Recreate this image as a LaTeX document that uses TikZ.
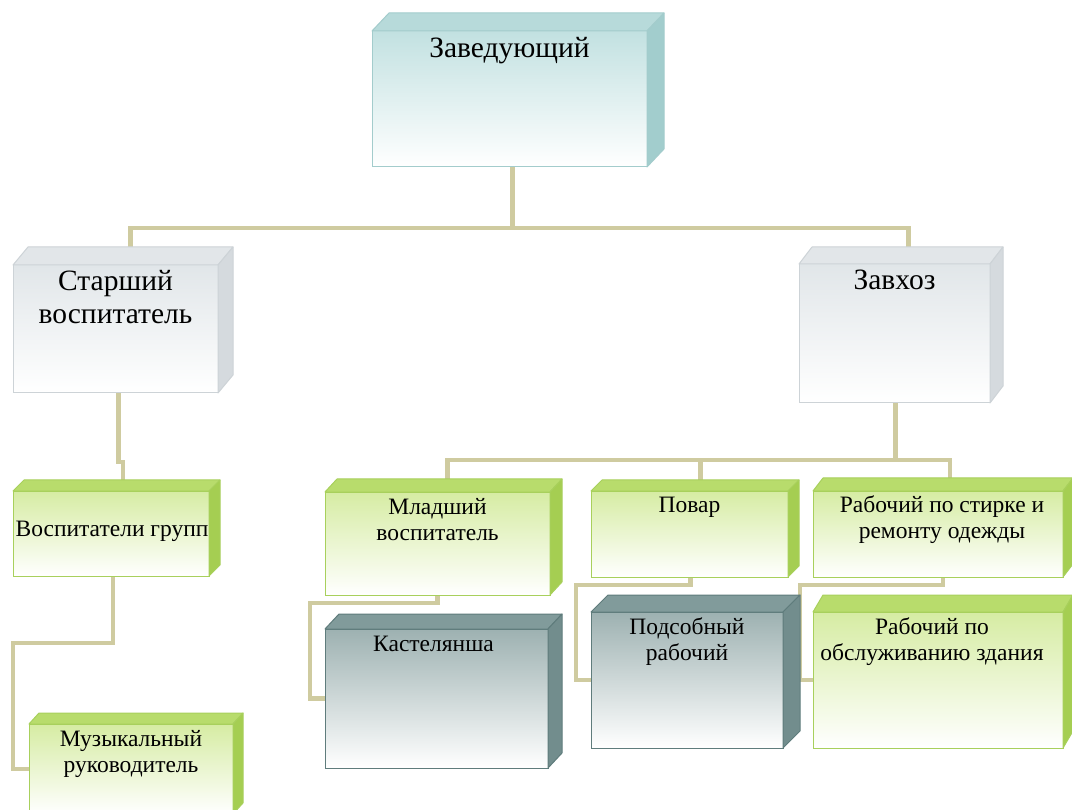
\documentclass[tikz,border=0pt]{standalone}
\usepackage{fontspec}
\setmainfont{Liberation Serif}
\usetikzlibrary{backgrounds,calc}
\definecolor{tealborder}{HTML}{A3CCCC}
\definecolor{tealtop}{HTML}{C2E1E1}
\definecolor{tealtopface}{HTML}{B7DADA}
\definecolor{tealside}{HTML}{A2CDCD}
\definecolor{greyborder}{HTML}{CDD3D7}
\definecolor{greytop}{HTML}{E1E6E9}
\definecolor{greytopface}{HTML}{E2E6E9}
\definecolor{greyside}{HTML}{D5DADE}
\definecolor{greenborder}{HTML}{A8D05C}
\definecolor{greentop}{HTML}{D6ECA3}
\definecolor{greentopface}{HTML}{B8DC6C}
\definecolor{greenside}{HTML}{A5CE52}
\definecolor{steelborder}{HTML}{5F7C7C}
\definecolor{steeltop}{HTML}{9DB1B1}
\definecolor{steeltopface}{HTML}{819B9B}
\definecolor{steelside}{HTML}{728D8D}
\definecolor{connector}{HTML}{CFCBA0}
\tikzset{
  frontface/.style={draw=#1border, line width=1pt, top color=#1top,
    middle color=#1top!35!white, bottom color=white, inner sep=0pt,
    outer sep=0pt, anchor=north west},
  conn/.style={draw=connector, line width=4.5pt, line join=miter},
  bigtxt/.style={font=\fontsize{29.5}{33}\selectfont, align=center, inner sep=0pt, anchor=north},
  smalltxt/.style={font=\fontsize{23.5}{26}\selectfont, align=center, inner sep=0pt, anchor=north},
}
% name, x1, y1, x2, y2, dx, dy, colour prefix
\newcommand\ocube[8]{%
  \node[frontface=#8, minimum width=#4pt-#2pt, minimum height=#5pt-#3pt] (#1) at (#2,#3) {};
  \filldraw[draw=#8border, fill=#8topface, line width=1pt, line join=round]
    (#1.north west) -- ++(#6,-#7) -- ($(#1.north east)+(#6,-#7)$) -- (#1.north east) -- cycle;
  \filldraw[draw=#8border, fill=#8side, line width=1pt, line join=round]
    (#1.north east) -- ++(#6,-#7) -- ($(#1.south east)+(#6,-#7)$) -- (#1.south east) -- cycle;
}
\begin{document}
\begin{tikzpicture}[x=1pt,y=-1pt]
\useasboundingbox (0,0) rectangle (1072,810);
\clip (0,0) rectangle (1072,810);
% boxes
\ocube{zav}{372}{31}{647}{167}{17}{18}{teal}
\ocube{st}{13}{265}{218}{393}{15}{18}{grey}
\ocube{zh}{799}{264}{990}{403}{13}{17}{grey}
\ocube{vg}{13}{491}{209}{576}{11}{11}{green}
\ocube{mr}{29}{724}{233}{814}{10}{11}{green}
\ocube{mv}{325}{492}{550}{595}{12}{13}{green}
\ocube{pv}{591}{491}{788}{577}{11}{11}{green}
\ocube{rs}{813}{491}{1063}{577}{10}{13}{green}
\ocube{ks}{325}{629}{548}{768}{14}{15}{steel}
\ocube{ps}{591}{612}{783}{748}{17}{17}{steel}
\ocube{ro}{813}{612}{1063}{748}{10}{17}{green}
% texts
\node[bigtxt] (zavT) at ($(zav.north)+(0,6)$) {Заведующий};
\node[bigtxt] (stT) at ($(st.north)+(0,5)$) {Старший\\воспитатель};
\node[bigtxt] (zhT) at ($(zh.north)+(0,6)$) {Завхоз};
\node[smalltxt] (vgT) at ($(vg.north)+(1,30)$) {Воспитатели групп};
\node[smalltxt] (mrT) at ($(mr.north)+(0,6)$) {Музыкальный\\руководитель};
\node[smalltxt] (mvT) at ($(mv.north)+(0,6)$) {Младший\\воспитатель};
\node[smalltxt] (pvT) at ($(pv.north)+(0,6)$) {Повар};
\node[smalltxt] (rsT) at ($(rs.north)+(4,4)$) {Рабочий по стирке и\\ремонту одежды};
\node[smalltxt] (ksT) at ($(ks.north)+(-3,7)$) {Кастелянша};
\node[smalltxt] (psT) at ($(ps.north)+(0,5)$) {Подсобный\\рабочий};
\node[smalltxt] (roT) at ($(ro.north)+(-6,5)$) {Рабочий по\\обслуживанию здания};
% connectors
\begin{scope}[on background layer]
  \fill[white] (0,0) rectangle (1072,810);
  \coordinate (hub1) at ($(zav.south)+(3,61)$);
  \draw[conn] ($(zav.south)+(3,0)$) -- (hub1) -| ($(st.north)+(15,0)$);
  \draw[conn] (hub1) -| ($(zh.north)+(14,0)$);
  \draw[conn] ($(st.south)+(3,0)$) -- ++(0,69) -| ($(vg.north)+(12,0)$);
  \draw[conn] ($(vg.south)+(2,0)$) -- ++(0,67) -| ($(mr.west)+(-16,0)$) -- (mr.west);
  \coordinate (hub2) at ($(zh.south)+(1,57)$);
  \draw[conn] (zh.south) ++(1,0) -- (hub2) -| ($(mv.north)+(10,0)$);
  \draw[conn] (hub2) -| ($(pv.north)+(11,0)$);
  \draw[conn] (hub2) -| ($(rs.north)+(12,0)$);
  \draw[conn] (mv.south) -- ++(0,8) -| ($(ks.west)+(-15,0)$) -- (ks.west);
  \draw[conn] (pv.south) ++(1,0) -- ++(0,8) -| ($(ps.west)+(-15,0)$) -- (ps.west);
  \draw[conn] (rs.south) ++(5,0) -- ++(0,8) -| ($(ro.west)+(-13,0)$) -- (ro.west);
\end{scope}
\end{tikzpicture}
\end{document}
